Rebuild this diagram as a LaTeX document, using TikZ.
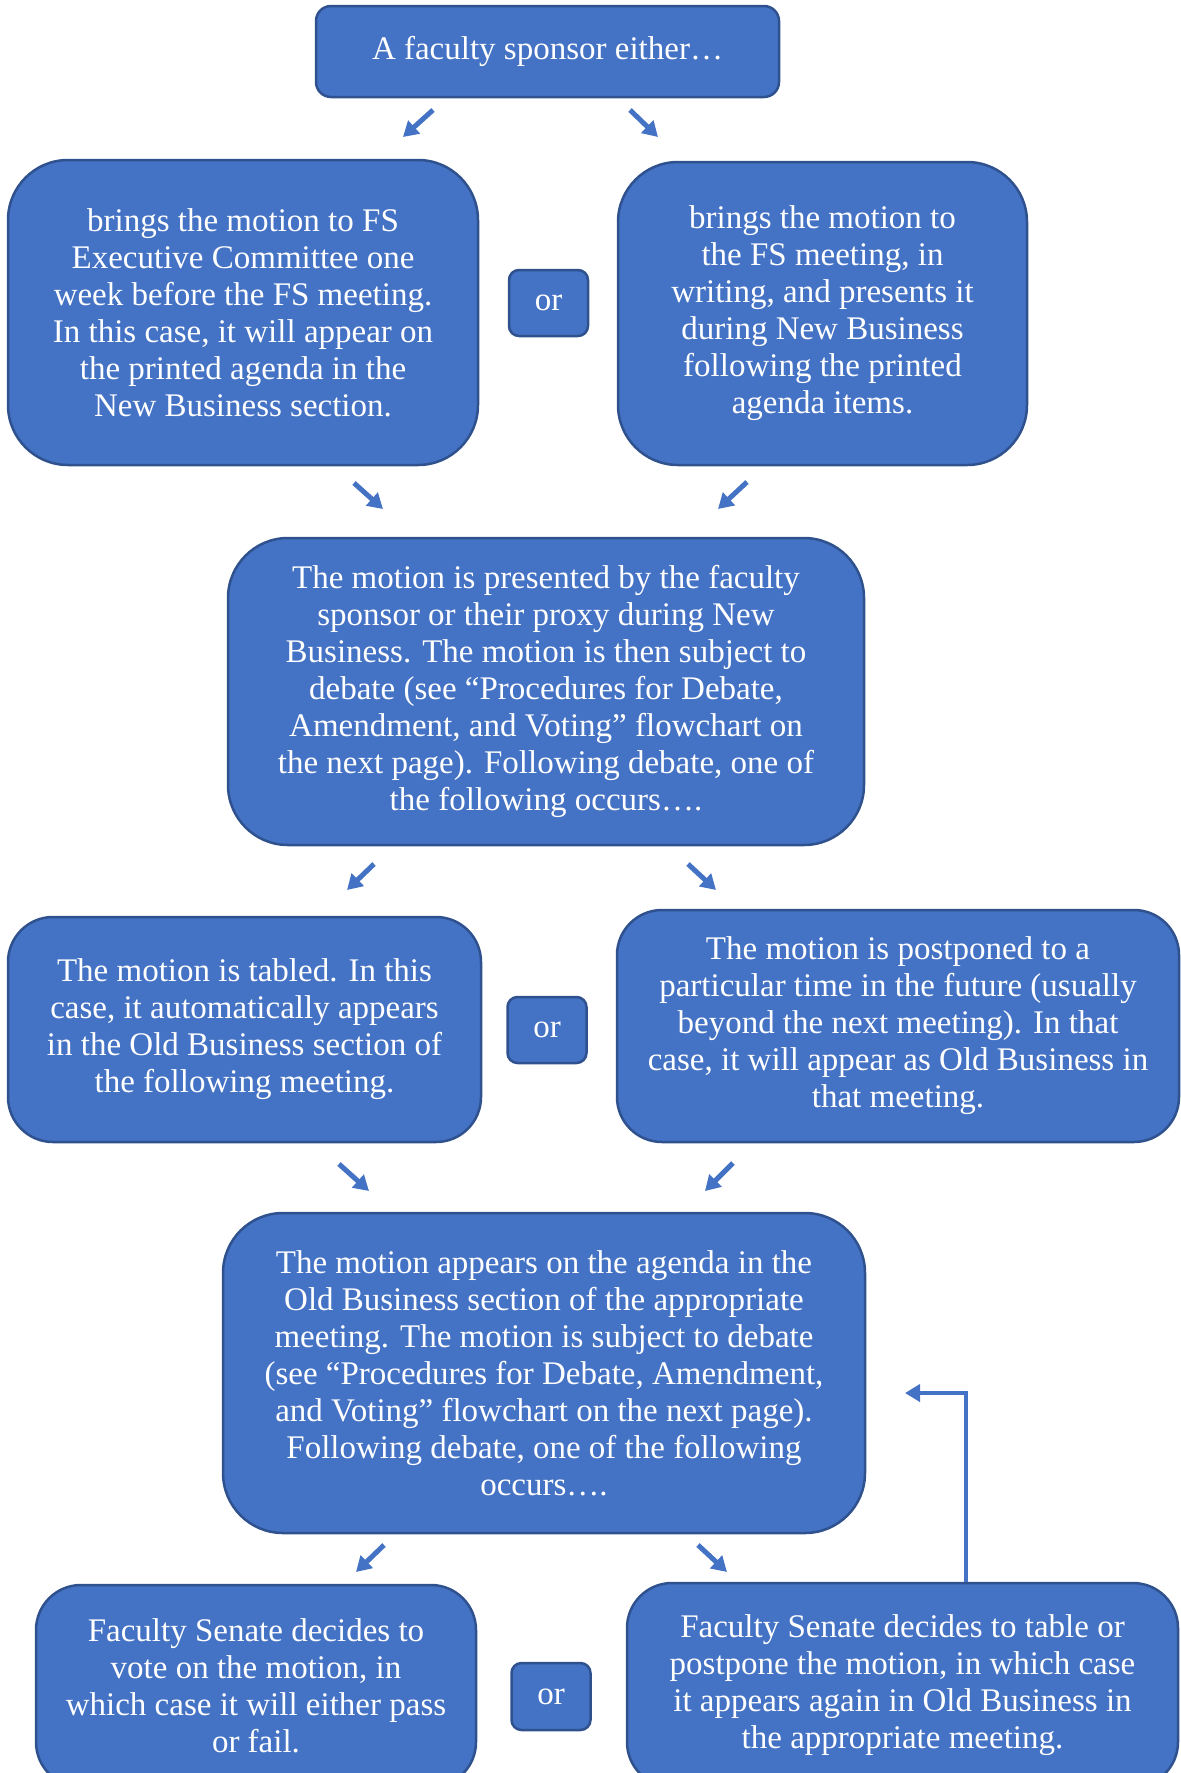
\documentclass[tikz,border=0pt]{standalone}
\usepackage{fontspec}
\setmainfont{Liberation Serif}
\usetikzlibrary{arrows.meta}
\definecolor{boxblue}{HTML}{4472C4}
\definecolor{boxedge}{HTML}{2F528F}
\tikzset{
  stage/.style={rectangle, rounded corners=#1, fill=boxblue, draw=boxedge, line width=2.5pt,
    text=white, align=center, inner sep=0pt, font=\fontsize{33}{37}\selectfont},
  stage/.default=60pt,
  orbox/.style={stage=10pt, minimum width=79pt, minimum height=66pt},
  flowarrow/.style={draw=boxblue, line width=5pt, -{Triangle[length=15pt,width=17pt]}},
}
\begin{document}
\begin{tikzpicture}[x=1pt,y=-1pt]
    \useasboundingbox (0,0) rectangle (1181,1773);
    % sponsor
    \node[stage=15pt, minimum width=463pt, minimum height=91pt] (sponsor) at (547.5,51.5) {A faculty sponsor either…};
    % first choice
    \node[stage, minimum width=470pt, minimum height=305pt] (exec) at (243,312.5)
        {brings the motion to FS\\Executive Committee one\\week before the FS meeting.\\In this case, it will appear on\\the printed agenda in the\\New Business section.};
    \node[orbox] (or1) at (548.5,303) {or};
    \node[stage, minimum width=409pt, minimum height=303pt] (floor) at (822.5,313.5)
        {brings the motion to\\the FS meeting, in\\writing, and presents it\\during New Business\\following the printed\\agenda items.};
    % new business
    \node[stage, minimum width=636pt, minimum height=307pt] (newbiz) at (546,691.5)
        {The motion is presented by the faculty\\sponsor or their proxy during New\\Business. The motion is then subject to\\debate (see “Procedures for Debate,\\Amendment, and Voting” flowchart on\\the next page). Following debate, one of\\the following occurs….};
    % tabled or postponed
    \node[stage=45pt, minimum width=473pt, minimum height=225pt] (tabled) at (244.5,1029.5)
        {The motion is tabled. In this\\case, it automatically appears\\in the Old Business section of\\the following meeting.};
    \node[orbox] (or2) at (547,1030) {or};
    \node[stage=45pt, minimum width=562pt, minimum height=232pt] (postponed) at (898,1026)
        {The motion is postponed to a\\particular time in the future (usually\\beyond the next meeting). In that\\case, it will appear as Old Business in\\that meeting.};
    % old business
    \node[stage, minimum width=642pt, minimum height=320pt] (oldbiz) at (544,1373)
        {The motion appears on the agenda in the\\Old Business section of the appropriate\\meeting. The motion is subject to debate\\(see “Procedures for Debate, Amendment,\\and Voting” flowchart on the next page).\\Following debate, one of the following\\occurs….};
    % outcome
    \node[stage=45pt, minimum width=440pt, minimum height=202pt] (vote) at (256,1686)
        {Faculty Senate decides to\\vote on the motion, in\\which case it will either pass\\or fail.};
    \node[orbox, minimum height=67pt] (or3) at (551,1696.5) {or};
    \node[stage=45pt, minimum width=551pt, minimum height=204pt] (defer) at (902.5,1685)
        {Faculty Senate decides to table or\\postpone the motion, in which case\\it appears again in Old Business in\\the appropriate meeting.};

    % small arrows between the rows
    \foreach \nm/\sx/\sy/\ex/\ey in {sa/433/110/403/137, sb/630/110/658/137,
        ea/354/483/383/509, eb/747/482/718/509,
        na/374/864/347/890, nb/688/864/716/890,
        ta/339/1164/369/1191, tb/733/1163/705/1191,
        oa/384/1545/356/1572, ob/698/1545/727/1572} {
        \coordinate (\nm-from) at (\sx,\sy);
        \coordinate (\nm-to) at (\ex,\ey);
        \draw[flowarrow] (\nm-from) -- (\nm-to);
    }

    % back to old business
    \coordinate (loopend) at (905,1393);
    \draw[flowarrow, line width=4.5pt, -{Triangle[length=15pt,width=17pt]}] ([xshift=63.5pt]defer.north) |- (loopend);
\end{tikzpicture}
\end{document}
